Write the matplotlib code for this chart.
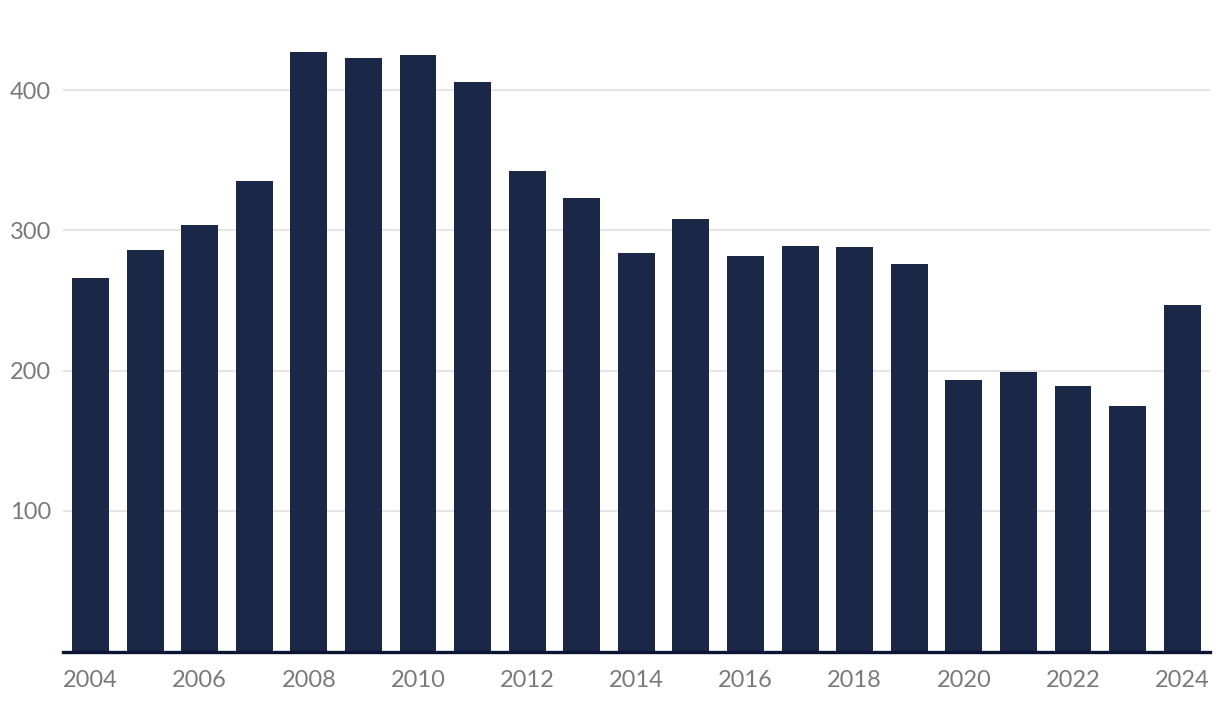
import matplotlib
matplotlib.use("Agg")
import matplotlib.pyplot as plt
import numpy as np

years = list(range(2004, 2025))
values = [266, 286, 304, 335, 427, 423, 425, 406, 342, 323, 284,
          308, 282, 289, 288, 276, 193, 199, 189, 175, 247]
y_ticks = [100, 200, 300, 400]

plt.rcParams['font.family'] = ['Lato', 'DejaVu Sans']

fig = plt.figure(figsize=(12.2, 7.16), dpi=100)
# axes placed in pixel terms: left 63, right 1210, baseline at 651
ax = fig.add_axes([63 / 1220, (716 - 651) / 716, 1147 / 1220, 638 / 716])

x = np.arange(len(years))
ax.bar(x, values, width=0.675, color='#1b2746', zorder=2)

ax.set_xlim(-0.504, len(years) - 1 + 0.51)
ax.set_ylim(0, 455)

ax.set_yticks(y_ticks)
ax.set_yticklabels([str(v) for v in y_ticks])
ax.yaxis.grid(True, color='#e6e6e6', linewidth=1.5, zorder=0)
ax.set_axisbelow(True)
for lab in ax.get_yticklabels():
    lab.set_horizontalalignment('left')
ax.tick_params(axis='y', length=0, pad=38, labelsize=17, labelcolor='#7a7a7a')

ax.set_xticks(x[::2])
ax.set_xticklabels([str(y) for y in years[::2]])
ax.tick_params(axis='x', length=0, pad=14, labelsize=17, labelcolor='#7a7a7a')

for s in ax.spines.values():
    s.set_visible(False)
# baseline sits just under the bars
ax.axhline(-0.9, color='#0b1533', linewidth=2.4, zorder=3, clip_on=False)

fig.savefig('out.png', dpi=100)
